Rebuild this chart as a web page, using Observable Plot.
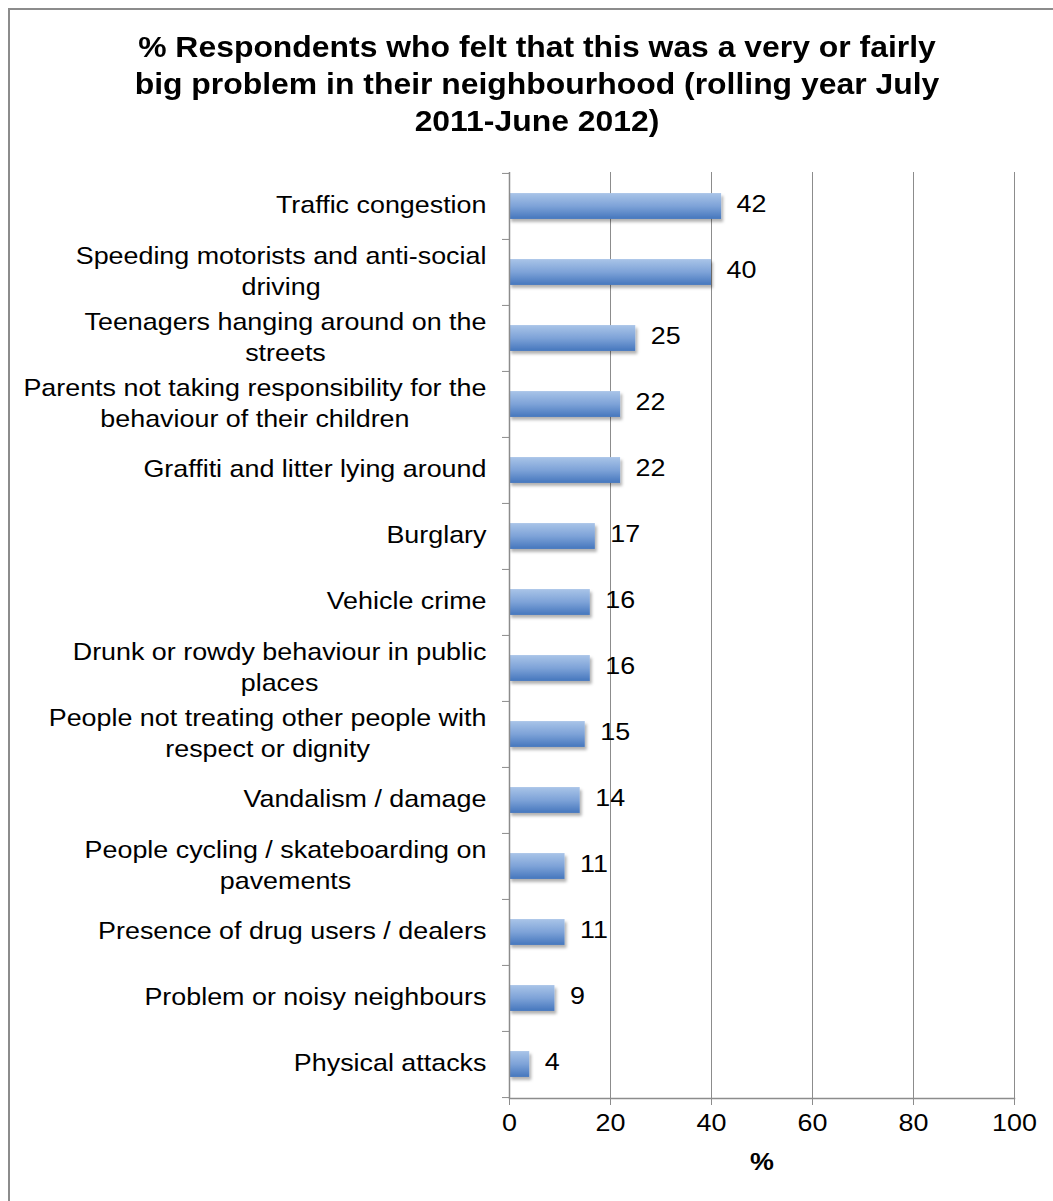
<!DOCTYPE html>
<html><head><meta charset="utf-8">
<script src="https://cdn.jsdelivr.net/npm/d3@7"></script>
<script src="https://cdn.jsdelivr.net/npm/@observablehq/plot@0.6"></script>
<style>
html,body{margin:0;padding:0;background:#fff;overflow:hidden;width:1053px;height:1201px;font-family:Arial,"Liberation Sans",sans-serif;}
#frame{position:absolute;left:8px;top:8px;width:1100px;height:1250px;border:2px solid #8c8c8c;box-sizing:border-box;}
#wrap{position:absolute;left:0;top:0;width:1053px;}
#title{width:1074px;text-align:center;font-weight:bold;font-size:29px;line-height:37px;padding-top:29px;height:131px;color:#000;transform:scaleX(1.1);transform-origin:537px 0;}
#chart svg{overflow:visible;}
</style></head><body>
<div id="frame"></div>
<div id="wrap">
<div id="title">% Respondents who felt that this was a very or fairly<br>big problem in their neighbourhood (rolling year July<br>2011-June 2012)</div>
<div id="chart"></div>
</div>
<script>
const categories = [
  "Traffic congestion",
  "Speeding motorists and anti-social\ndriving",
  "Teenagers hanging around on the\nstreets",
  "Parents not taking responsibility for the\nbehaviour of their children",
  "Graffiti and litter lying around",
  "Burglary",
  "Vehicle crime",
  "Drunk or rowdy behaviour in public\nplaces",
  "People not treating other people with\nrespect or dignity",
  "Vandalism / damage",
  "People cycling / skateboarding on\npavements",
  "Presence of drug users / dealers",
  "Problem or noisy neighbours",
  "Physical attacks"
];
const values = [42, 40, 25, 22, 22, 17, 16, 16, 15, 14, 11, 11, 9, 4];
const xTicks = [0, 20, 40, 60, 80, 100];
const xLabel = "%";

const data = categories.map((c, i) => ({label: c, value: values[i]}));

const FONT = 'Arial, "Liberation Sans", sans-serif';
const FS = 24, STRETCH = 1.12;
const ctx = document.createElement("canvas").getContext("2d");
ctx.font = FS + "px " + FONT;
const textWidth = s => Math.max(...s.split("\n").map(l => ctx.measureText(l).width));

const marginTop = 12, marginBottom = 103, plotH = 926;
const step = plotH / categories.length;
const barH = 26;
const inset = (step - barH) / 2;
const gray = "#8c8c8c";

const defs = () => {
  const ns = "http://www.w3.org/2000/svg";
  const g = document.createElementNS(ns, "g");
  g.innerHTML = `<defs>
    <linearGradient id="barGrad" x1="0" y1="0" x2="0" y2="1">
      <stop offset="0" stop-color="#a9c4e8"/>
      <stop offset="0.5" stop-color="#7ea3d8"/>
      <stop offset="1" stop-color="#4576bd"/>
    </linearGradient>
    <filter id="shadow" x="-10%" y="-30%" width="130%" height="180%">
      <feDropShadow dx="2" dy="3" stdDeviation="1.5" flood-color="#000" flood-opacity="0.3"/>
    </filter>
  </defs>`;
  return g;
};

const labelMarks = data.map(d => Plot.text([d], {
  y: "label", text: "label", frameAnchor: "left", textAnchor: "middle",
  dx: -(23 + STRETCH * textWidth(d.label) / 2), dy: -3, lineHeight: 31 / FS, fill: "#000"
}));

const chart = Plot.plot({
  width: 1053,
  height: marginTop + plotH + marginBottom,
  marginLeft: 509, marginRight: 39, marginTop, marginBottom,
  style: {fontFamily: FONT, fontSize: FS + "px", color: "#000", background: "transparent", overflow: "visible"},
  x: {domain: [0, 100]},
  y: {domain: categories, padding: 0},
  marks: [
    defs,
    Plot.ruleX(xTicks.slice(1), {stroke: gray, strokeWidth: 1}),
    Plot.barX(data, {x: "value", y: "label", fill: "url(#barGrad)", insetTop: inset, insetBottom: inset}),
    Plot.ruleX([0], {stroke: gray, strokeWidth: 1.5}),
    Plot.frame({anchor: "bottom", stroke: gray, strokeWidth: 1.5}),
    Plot.axisY(categories, {tickSize: 7, tickFormat: () => "", dy: -step / 2, stroke: gray, label: null}),
    Plot.axisY(categories.slice(-1), {tickSize: 7, tickFormat: () => "", dy: step / 2, stroke: gray, label: null}),
    Plot.axisX(xTicks, {tickSize: 7, tickPadding: 8, stroke: gray, fill: "#000", label: null, fontSize: FS}),
    Plot.text(data, {x: "value", y: "label", text: d => String(d.value), textAnchor: "start", dx: 15, dy: -2, fill: "#000"}),
    ...labelMarks,
    Plot.text([xLabel], {frameAnchor: "bottom", dy: 71, text: d => d, fontWeight: "bold", fill: "#000"})
  ]
});
chart.querySelectorAll('g[aria-label="bar"] rect').forEach(r => r.setAttribute("filter", "url(#shadow)"));
const isNum = v => v != null && /^-?[\d.]+(e-?\d+)?$/.test(v.trim());
chart.querySelectorAll("text").forEach(t => {
  let tr = t.getAttribute("transform") || "";
  const x = t.getAttribute("x"), y = t.getAttribute("y");
  if (isNum(x)) { tr += ` translate(${x},0)`; t.removeAttribute("x"); }
  if (isNum(y)) { tr += ` translate(0,${y})`; t.removeAttribute("y"); }
  t.setAttribute("transform", (tr + ` scale(${STRETCH},1)`).trim());
});
document.getElementById("chart").appendChild(chart);
</script>
</body></html>
